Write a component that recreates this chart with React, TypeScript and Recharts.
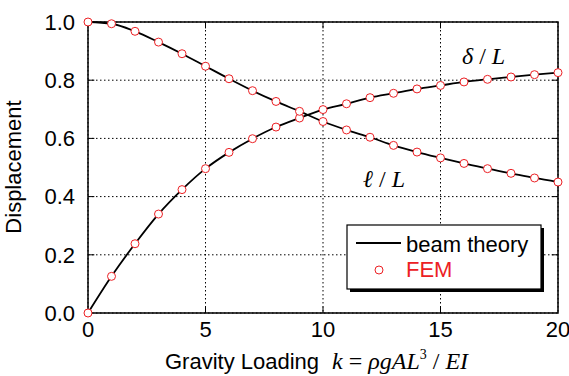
import {
  CartesianGrid,
  ComposedChart,
  Line,
  ReferenceArea,
  ReferenceLine,
  XAxis,
  YAxis,
} from 'recharts'

const kValues = [0, 1, 2, 3, 4, 5, 6, 7, 8, 9, 10, 11, 12, 13, 14, 15, 16, 17, 18, 19, 20]

// tip deflection  delta / L
const deltaL = [
  0, 0.126, 0.238, 0.34, 0.424, 0.496, 0.552, 0.599, 0.639, 0.67, 0.699,
  0.719, 0.74, 0.755, 0.77, 0.782, 0.794, 0.803, 0.811, 0.819, 0.826,
]

// horizontal reach  l / L
const ellL = [
  1, 0.994, 0.968, 0.931, 0.891, 0.848, 0.805, 0.764, 0.727, 0.693, 0.658,
  0.629, 0.604, 0.576, 0.553, 0.533, 0.514, 0.496, 0.48, 0.464, 0.45,
]

const xTicks = [0, 5, 10, 15, 20]
const yTicks = [0, 0.2, 0.4, 0.6, 0.8, 1.0]

const RED = '#ec2024'
const SANS = '"Liberation Sans", Arial, sans-serif'
const SERIF = '"Liberation Serif", "Times New Roman", serif'

const data = kValues.map((k, i) => ({ k, delta: deltaL[i], ell: ellL[i] }))

const markerDot = { r: 4, fill: '#fff', stroke: RED, strokeWidth: 1 }

export default function App() {
  return (
    <div style={{ position: 'absolute', left: 0, top: 0, background: '#fff' }}>
      <ComposedChart
        width={569}
        height={376}
        data={data}
        margin={{ top: 22, right: 11, bottom: 0, left: 0 }}
      >
        <CartesianGrid stroke="#000" strokeDasharray="1.5 2.5" strokeWidth={1} />
        <XAxis
          type="number"
          dataKey="k"
          domain={[0, 20]}
          ticks={xTicks}
          height={63}
          axisLine={false}
          tickLine={false}
          tickSize={0}
          tickMargin={8}
          tick={{ fontSize: 22, fill: '#000', fontFamily: SANS }}
        />
        <YAxis
          type="number"
          domain={[0, 1]}
          ticks={yTicks}
          width={88}
          axisLine={false}
          tickLine={false}
          tickSize={0}
          tickMargin={13}
          tickFormatter={(v) => v.toFixed(1)}
          tick={{ fontSize: 22, fill: '#000', fontFamily: SANS }}
        />
        {/* inward tick marks on all four sides */}
        {xTicks.slice(1, -1).map((t) => (
          <ReferenceLine key={`bx${t}`} segment={[{ x: t, y: 0 }, { x: t, y: 0.022 }]} stroke="#000" />
        ))}
        {xTicks.slice(1, -1).map((t) => (
          <ReferenceLine key={`tx${t}`} segment={[{ x: t, y: 1 }, { x: t, y: 0.978 }]} stroke="#000" />
        ))}
        {yTicks.slice(1, -1).map((t) => (
          <ReferenceLine key={`ly${t}`} segment={[{ x: 0, y: t }, { x: 0.27, y: t }]} stroke="#000" />
        ))}
        {yTicks.slice(1, -1).map((t) => (
          <ReferenceLine key={`ry${t}`} segment={[{ x: 20, y: t }, { x: 19.73, y: t }]} stroke="#000" />
        ))}
        <ReferenceArea x1={0} x2={20} y1={0} y2={1} fill="none" stroke="#000" strokeWidth={1.5} />
        <Line
          type="monotone"
          dataKey="delta"
          stroke="#000"
          strokeWidth={1.8}
          dot={false}
          isAnimationActive={false}
        />
        <Line
          type="monotone"
          dataKey="ell"
          stroke="#000"
          strokeWidth={1.8}
          dot={false}
          isAnimationActive={false}
        />
        <Line dataKey="delta" stroke="none" dot={markerDot} isAnimationActive={false} />
        <Line dataKey="ell" stroke="none" dot={markerDot} isAnimationActive={false} />

        {/* curve labels */}
        <text x={462} y={64} fontFamily={SERIF} fontStyle="italic" fontSize={24} fill="#000">
          δ <tspan fontStyle="normal">/</tspan> L
        </text>
        <text x={363} y={187} fontFamily={SERIF} fontStyle="italic" fontSize={24} fill="#000">
          ℓ <tspan fontStyle="normal">/</tspan> L
        </text>

        {/* axis titles */}
        <text
          x={21}
          y={167}
          transform="rotate(-90, 21, 167)"
          textAnchor="middle"
          fontFamily={SANS}
          fontSize={22}
          fill="#000"
        >
          Displacement
        </text>
        <text x={165} y={369} fontFamily={SANS} fontSize={22} fill="#000">
          Gravity Loading
        </text>
        <text x={332} y={369} fontFamily={SERIF} fontSize={24} fill="#000">
          <tspan fontStyle="italic">k</tspan>
          <tspan> = </tspan>
          <tspan fontStyle="italic">ρgAL</tspan>
          <tspan fontSize={14} dy={-10}>3</tspan>
          <tspan dy={10}> / </tspan>
          <tspan fontStyle="italic">EI</tspan>
        </text>

        {/* legend */}
        <rect x={350} y={228} width={194} height={64} fill="#000" />
        <rect x={347} y={225} width={194} height={64} fill="#fff" stroke="#000" strokeWidth={1.2} />
        <line x1={356} y1={243} x2={401} y2={243} stroke="#000" strokeWidth={1.8} />
        <text x={406} y={252} fontFamily={SANS} fontSize={22} fill="#000">
          beam theory
        </text>
        <circle cx={379} cy={270} r={4} fill="#fff" stroke={RED} strokeWidth={1} />
        <text x={406} y={277} fontFamily={SANS} fontSize={22} fill={RED}>
          FEM
        </text>
      </ComposedChart>
    </div>
  )
}
